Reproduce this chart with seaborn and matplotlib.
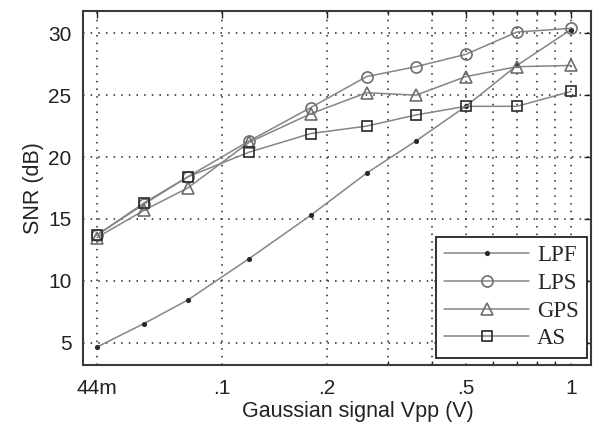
import numpy as np
import pandas as pd
import matplotlib
matplotlib.use("Agg")
import matplotlib.pyplot as plt
import seaborn as sns
from matplotlib.ticker import FixedLocator, FixedFormatter, NullFormatter

# ---- data ----
vpp = [0.044, 0.06, 0.08, 0.12, 0.18, 0.26, 0.36, 0.5, 0.7, 1.0]
lpf = [4.65, 6.55, 8.45, 11.8, 15.3, 18.7, 21.3, 24.1, 27.4, 30.3]
lps = [13.7, 16.2, 18.4, 21.3, 24.0, 26.5, 27.3, 28.3, 30.1, 30.4]
gps = [13.5, 15.7, 17.5, 21.2, 23.5, 25.2, 25.0, 26.5, 27.3, 27.4]
as_ = [13.7, 16.3, 18.4, 20.4, 21.9, 22.5, 23.4, 24.1, 24.1, 25.3]

series_names = ["LPF", "LPS", "GPS", "AS"]
series_vals = [lpf, lps, gps, as_]

x_major = [0.044, 0.1, 0.2, 0.5, 1.0]
x_major_labels = ["44m", ".1", ".2", ".5", "1"]
x_minor = [0.3, 0.4, 0.6, 0.7, 0.8, 0.9]
y_ticks = [5, 10, 15, 20, 25, 30]

df = pd.DataFrame({
    "Vpp": np.tile(vpp, len(series_names)),
    "SNR": np.concatenate(series_vals),
    "series": np.repeat(series_names, len(vpp)),
})

sns.set_style("white")
plt.rcParams["font.family"] = ["Liberation Sans", "DejaVu Sans"]

W, H = 593, 428
fig = plt.figure(figsize=(W / 100, H / 100), dpi=100)
l, r, b, t = 83.3, 590.5, 365, 11
ax = fig.add_axes([l / W, 1 - b / H, (r - l) / W, (b - t) / H])

styles = {
    "LPF": dict(marker=".", markersize=5, mec="#2a2a2a", mfc="#2a2a2a"),
    "LPS": dict(marker="o", markersize=8, mec="#6e6e6e", mfc="none"),
    "GPS": dict(marker="^", markersize=8, mec="#6e6e6e", mfc="none"),
    "AS": dict(marker="s", markersize=6.5, mec="#2a2a2a", mfc="none"),
}
for name in series_names:
    sub = df[df["series"] == name]
    st = styles[name]
    sns.lineplot(data=sub, x="Vpp", y="SNR", ax=ax, color="#858585",
                 linewidth=1.1, marker=st["marker"], markersize=st["markersize"],
                 markeredgecolor=st["mec"], markerfacecolor=st["mfc"],
                 markeredgewidth=1.2, label=name, zorder=3)

ax.set_xscale("log")
ax.set_xlim(0.0402, 1.137)
ax.set_ylim(3.2, 31.8)

ax.xaxis.set_major_locator(FixedLocator(x_major))
ax.xaxis.set_major_formatter(FixedFormatter(x_major_labels))
ax.xaxis.set_minor_locator(FixedLocator(x_minor))
ax.xaxis.set_minor_formatter(NullFormatter())
ax.yaxis.set_major_locator(FixedLocator(y_ticks))

ax.grid(True, which="both", axis="x", linestyle=(0, (1, 4)), color="#222222", linewidth=1.1)
ax.grid(True, which="major", axis="y", linestyle=(0, (1, 4)), color="#222222", linewidth=1.1)
ax.set_axisbelow(True)

ax.tick_params(which="major", direction="in", length=5, width=1, top=True, right=True,
               labelsize=15, colors="#222222")
ax.tick_params(axis="x", which="major", pad=10)
ax.tick_params(axis="y", which="major", pad=8.5)
ax.tick_params(which="minor", direction="in", length=3, width=1, top=True, bottom=True)

for sp in ax.spines.values():
    sp.set_visible(True)
    sp.set_color("#3a3a3a")
    sp.set_linewidth(1.5)

ax.set_xlabel("Gaussian signal Vpp (V)", fontsize=15.5, color="#222222")
ax.xaxis.set_label_coords((358 - l) / (r - l), -(412 - b) / (b - t), transform=ax.transAxes)
ax.xaxis.label.set_va("center")
ax.set_ylabel("SNR (dB)", fontsize=15.5, color="#222222", labelpad=3)

leg_right = (587 - l) / (r - l)
leg_bottom = (b - 357.5) / (b - t)
leg = ax.legend(loc="lower right", bbox_to_anchor=(leg_right, leg_bottom), frameon=True,
                fancybox=False, edgecolor="#222222", framealpha=1,
                prop={"family": "Liberation Serif", "size": 16.5},
                handlelength=3.7, handletextpad=0.35, labelspacing=0.3,
                borderpad=0.35, borderaxespad=0)
leg.get_frame().set_linewidth(1.3)

fig.savefig("out.png", dpi=100)
